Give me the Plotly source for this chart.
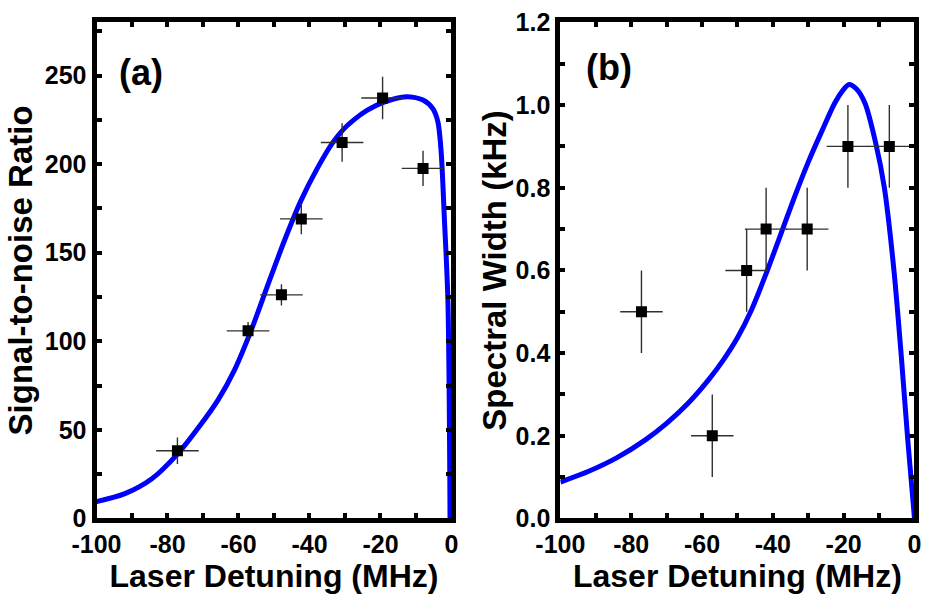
import plotly.graph_objects as go

# ---------------- data ----------------
# Panel (a): signal-to-noise ratio
det_a = [-77.2, -57.3, -47.9, -42.3, -30.8, -19.4, -8.0]
snr = [38.2, 105.9, 126.2, 169.1, 212.2, 237.3, 197.6]
snr_err = [7.5, 5.0, 6.0, 8.7, 10.9, 12.0, 10.0]
det_a_err = [6, 6, 6, 6, 6, 6, 6]

fit_a_x = [-100, -92, -84.4, -77.2, -71, -65.7, -61.1, -56.4, -51.8, -47.1, -42.5,
           -37.8, -33.5, -30.5, -27.5, -23.8, -19.2, -12.7, -8.0, -5.2, -3.8, -2.9,
           -2.0, -1.0, -0.4]
fit_a_y = [9.5, 14.0, 22.4, 36.3, 52.0, 67.1, 83.9, 106.3, 131.4, 156.6, 179.0,
           197.6, 212.0, 219.5, 225.0, 230.3, 234.9, 238.1, 236.2, 231.2, 223.7, 207.0,
           169.6, 123.0, 0.0]

# Panel (b): spectral width
det_b = [-77.1, -57.1, -47.4, -41.9, -30.3, -18.8, -7.1]
width = [0.5, 0.2, 0.6, 0.7, 0.7, 0.9, 0.9]
width_err = [0.1, 0.1, 0.1, 0.1, 0.1, 0.1, 0.1]
det_b_err = [6, 6, 6, 6, 6, 6, 6]

fit_b_x = [-100, -92, -84, -76, -70, -64, -58, -54, -50, -46, -42, -38,
           -34, -30, -26, -22.5, -20, -18.5, -16.5, -14, -11, -8.5,
           -5.8, -3.7, -1.9, 0.0]
fit_b_y = [0.088, 0.114, 0.147, 0.19, 0.23, 0.278, 0.337, 0.383, 0.437, 0.505, 0.59, 0.682,
           0.775, 0.862, 0.94, 1.005, 1.038, 1.05, 1.04, 1.005, 0.91, 0.8,
           0.6, 0.39, 0.19, 0.0]

x_ticks = [-100, -80, -60, -40, -20, 0]
x_tick_text = ["-100", "-80", "-60", "-40", "-20", "0"]
ya_ticks = [0, 50, 100, 150, 200, 250]
yb_ticks = [0.0, 0.2, 0.4, 0.6, 0.8, 1.0, 1.2]
yb_tick_text = ["0.0", "0.2", "0.4", "0.6", "0.8", "1.0", "1.2"]

# ---------------- figure ----------------
FONT = "Liberation Sans"
BLUE = "#0000ff"
ERRC = "#303030"

fig = go.Figure()

fig.add_trace(go.Scatter(x=fit_a_x, y=fit_a_y, mode="lines",
                         line=dict(color=BLUE, width=5, shape="spline", smoothing=0.8),
                         xaxis="x", yaxis="y", showlegend=False, hoverinfo="skip"))
fig.add_trace(go.Scatter(x=det_a, y=snr, mode="markers",
                         marker=dict(symbol="square", size=11, color="black"),
                         error_y=dict(type="data", array=snr_err, color=ERRC, thickness=1.4, width=0),
                         error_x=dict(type="data", array=det_a_err, color=ERRC, thickness=1.4, width=0),
                         xaxis="x", yaxis="y", showlegend=False))

fig.add_trace(go.Scatter(x=fit_b_x, y=fit_b_y, mode="lines",
                         line=dict(color=BLUE, width=5, shape="spline", smoothing=0.8),
                         xaxis="x2", yaxis="y2", showlegend=False, hoverinfo="skip"))
fig.add_trace(go.Scatter(x=det_b, y=width, mode="markers",
                         marker=dict(symbol="square", size=11, color="black"),
                         error_y=dict(type="data", array=width_err, color=ERRC, thickness=1.4, width=0),
                         error_x=dict(type="data", array=det_b_err, color=ERRC, thickness=1.4, width=0),
                         xaxis="x2", yaxis="y2", showlegend=False))

tickfont = dict(family=FONT, size=25, color="black", weight="bold")
xtitlefont = dict(family=FONT, size=32, color="black", weight="bold")
ytitlefont = dict(family=FONT, size=33, color="black", weight="bold")

common = dict(showline=True, linewidth=5, linecolor="black", mirror="allticks",
              ticks="inside", ticklen=5, tickwidth=4, tickcolor="black",
              showgrid=False, zeroline=False, tickfont=tickfont, automargin=False)

ydom = [0.1445, 0.963]

fig.update_layout(
    width=927, height=606,
    margin=dict(l=0, r=0, t=0, b=0),
    paper_bgcolor="white", plot_bgcolor="white",
    xaxis=dict(domain=[0.1041, 0.487], range=[-100, 0], anchor="y",
               tickvals=x_ticks, ticktext=x_tick_text,
               minor=dict(dtick=10, tick0=0, ticks="inside", ticklen=5, tickwidth=4, tickcolor="black"),
               title=dict(text="Laser Detuning (MHz)", font=xtitlefont, standoff=6),
               **common),
    yaxis=dict(domain=ydom, range=[0, 280], anchor="x",
               tickvals=ya_ticks,
               minor=dict(dtick=25, tick0=0, ticks="inside", ticklen=5, tickwidth=4, tickcolor="black"),
               title=dict(text="Signal-to-noise Ratio", font=ytitlefont, standoff=4),
               **common),
    xaxis2=dict(domain=[0.6045, 0.9865], range=[-100, 0], anchor="y2",
                tickvals=x_ticks, ticktext=x_tick_text,
                minor=dict(dtick=10, tick0=0, ticks="inside", ticklen=5, tickwidth=4, tickcolor="black"),
                title=dict(text="Laser Detuning (MHz)", font=xtitlefont, standoff=6),
                **common),
    yaxis2=dict(domain=ydom, range=[0, 1.2], anchor="x2",
                tickvals=yb_ticks, ticktext=yb_tick_text,
                minor=dict(dtick=0.1, tick0=0, ticks="inside", ticklen=5, tickwidth=4, tickcolor="black"),
                title=dict(text="Spectral Width (kHz)", font=ytitlefont, standoff=1),
                **common),
    annotations=[
        dict(text="(a)", x=-94.3, y=252, xref="x", yref="y", xanchor="left", yanchor="middle",
             showarrow=False, font=dict(family=FONT, size=36, color="black", weight="bold")),
        dict(text="(b)", x=-93.3, y=1.09, xref="x2", yref="y2", xanchor="left", yanchor="middle",
             showarrow=False, font=dict(family=FONT, size=36, color="black", weight="bold")),
    ],
)

fig.write_html("out.html", config={"displayModeBar": False},
               post_script="document.body.style.margin='0px';document.body.style.overflow='hidden';")
